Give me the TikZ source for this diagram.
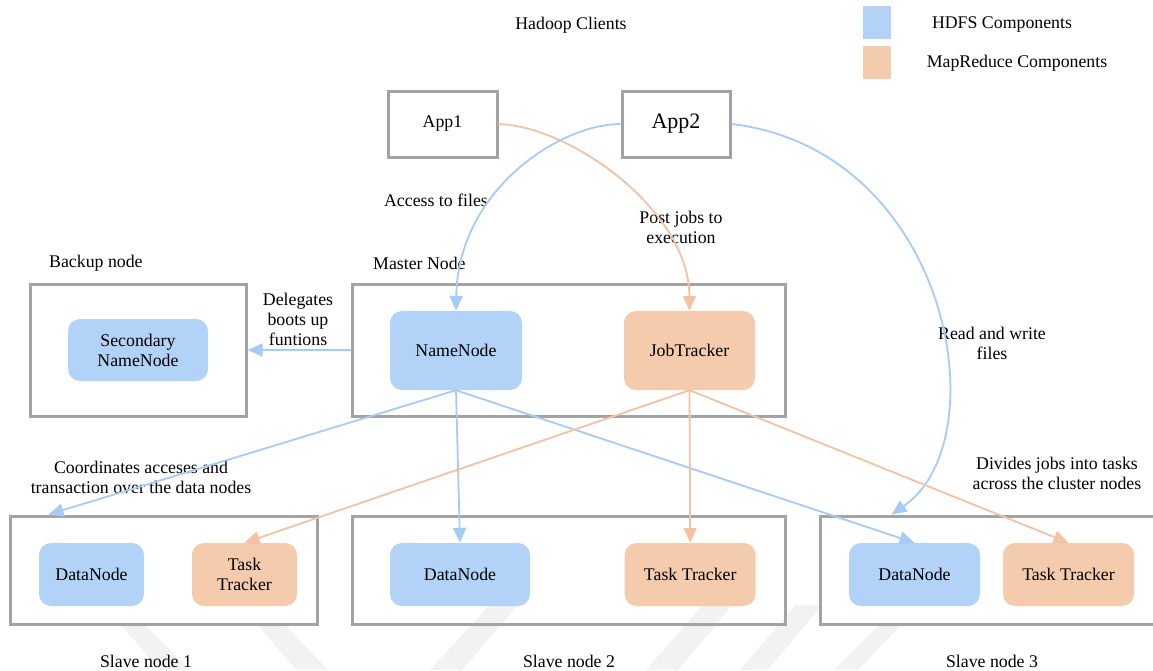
\documentclass[tikz,border=0pt]{standalone}
\usepackage{fontspec}
\setmainfont{Liberation Serif}
\usetikzlibrary{arrows.meta,calc}

\definecolor{hdfsfill}{RGB}{178,211,247}
\definecolor{mrfill}{RGB}{244,203,173}
\definecolor{hdfsline}{RGB}{166,203,246}
\definecolor{mrline}{RGB}{243,194,162}
\definecolor{framegray}{RGB}{163,163,163}
\definecolor{markgray}{RGB}{242,242,242}
\newcommand{\labelfont}{\fontsize{17.8pt}{20pt}\selectfont}

\tikzset{
  every node/.style={font=\labelfont, text=black, inner sep=0pt, align=center},
  frame/.style={draw=framegray, line width=3pt},
  hdfsbox/.style={fill=hdfsfill, rounded corners=12pt},
  mrbox/.style={fill=mrfill, rounded corners=12pt},
  hdfsarrow/.style={draw=hdfsline, line width=1.8pt, -{Triangle[length=15pt,width=13pt]}},
  mrarrow/.style={draw=mrline, line width=1.8pt, -{Triangle[length=15pt,width=13pt]}},
  stripe/.style={fill=markgray, draw=none}
}

\begin{document}
\begin{tikzpicture}[x=1pt,y=-1pt]
\useasboundingbox (0,0) rectangle (1153,670);
\fill[white] (0,0) rectangle (1153,670);

% faint background stripes along the bottom edge
\fill[stripe] (122,626) -- (146,626) -- (190,670) -- (160,670) -- cycle;
\fill[stripe] (259,626) -- (286,626) -- (328,670) -- (296,670) -- cycle;
\fill[stripe] (430,670) -- (462,670) -- (522,600) -- (494,600) -- cycle;
\fill[stripe] (646,670) -- (678,670) -- (745,590) -- (716,590) -- cycle;
\fill[stripe] (740,670) -- (768,670) -- (822,605) -- (796,605) -- cycle;
\fill[stripe] (834,670) -- (858,670) -- (900,626) -- (878,626) -- cycle;

% titles and legend
\node (clients) at (571,25) {Hadoop Clients};
\node[fill=hdfsfill, minimum width=28pt, minimum height=33pt] (lgh) at (877,22.5) {};
\node[fill=mrfill, minimum width=28pt, minimum height=33pt] (lgm) at (877,62.5) {};
\node (lghtxt) at (1002,24) {HDFS Components};
\node (lgmtxt) at (1017,63) {MapReduce Components};

% client applications
\node[frame, minimum width=109pt, minimum height=66pt] (app1) at (442.5,124) {App1};
\node[frame, minimum width=108pt, minimum height=66pt, font=\fontsize{22pt}{24pt}\selectfont] (app2) at (676,124) {App2};

% group captions
\node[anchor=west] (backuplbl) at (49,263) {Backup node};
\node[anchor=west] (masterlbl) at (373,263) {Master Node};

% backup and master groups
\node[frame, minimum width=216pt, minimum height=132pt] (backup) at (138,350) {};
\node[frame, minimum width=433pt, minimum height=132pt] (master) at (568.5,350) {};
\node[hdfsbox, minimum width=140pt, minimum height=62pt] (snn) at (138,350) {Secondary\\NameNode};
\node[hdfsbox, minimum width=132pt, minimum height=79pt] (nn) at (456,350.5) {NameNode};
\node[mrbox, minimum width=131pt, minimum height=79pt] (jt) at (689.5,350.5) {JobTracker};

% slave groups
\node[frame, minimum width=307pt, minimum height=108pt] (s1) at (163.5,570) {};
\node[frame, minimum width=433pt, minimum height=108pt] (s2) at (568.5,570) {};
\node[frame, minimum width=340pt, minimum height=108pt] (s3) at (990,570) {};
\node[hdfsbox, minimum width=105pt, minimum height=63pt] (dn1) at (91.5,574.5) {DataNode};
\node[mrbox, minimum width=105pt, minimum height=63pt] (tt1) at (244.5,574.5) {Task\\Tracker};
\node[hdfsbox, minimum width=140pt, minimum height=63pt] (dn2) at (460,574.5) {DataNode};
\node[mrbox, minimum width=131pt, minimum height=63pt] (tt2) at (690.2,574.5) {Task Tracker};
\node[hdfsbox, minimum width=131pt, minimum height=63pt] (dn3) at (914.5,574.5) {DataNode};
\node[mrbox, minimum width=131pt, minimum height=63pt] (tt3) at (1068.5,574.5) {Task Tracker};

\node (s1lbl) at (146,661) {Slave node 1};
\node (s2lbl) at (569,661) {Slave node 2};
\node (s3lbl) at (992,661) {Slave node 3};

% connector labels
\node (accesslbl) at (436,200) {Access to files};
\node (postlbl) at (681,227) {Post jobs to\\execution};
\node (rwlbl) at (992,343) {Read and write\\files};
\node (delegatelbl) at (298,319) {Delegates\\boots up\\funtions};
\node (coordlbl) at (141,477) {Coordinates acceses and\\transaction over the data nodes};
\node (dividelbl) at (1057,473) {Divides jobs into tasks\\across the cluster nodes};

% connectors
\coordinate (s1in) at ([xshift=40pt]s1.north west);
\coordinate (s3in) at ([xshift=73pt]s3.north west);

\draw[mrarrow] (app1.east) .. controls (570,126) and (689,210) .. (jt.north);
\draw[hdfsarrow] (app2.west) .. controls (560,124) and (458,190) .. (nn.north);
\draw[hdfsarrow] (app2.east) .. controls (950,150) and (1000,440) .. (s3in);

\draw[hdfsarrow] (master.west) -- (backup.east);

\draw[hdfsarrow] (nn.south) -- (s1in);
\draw[hdfsarrow] (nn.south) -- (dn2.north);
\draw[hdfsarrow] (nn.south) -- (dn3.north);
\draw[mrarrow] (jt.south) -- (tt1.north);
\draw[mrarrow] (jt.south) -- (tt2.north);
\draw[mrarrow] (jt.south) -- (tt3.north);
\end{tikzpicture}
\end{document}
